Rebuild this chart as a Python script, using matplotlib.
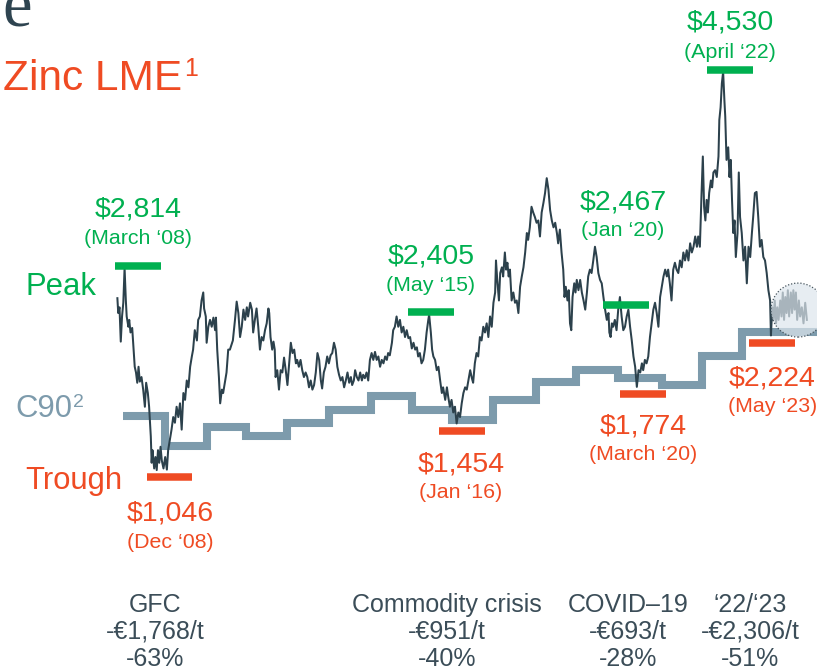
import matplotlib
matplotlib.use("Agg")
import matplotlib.pyplot as plt
from matplotlib.patches import Ellipse

plt.rcParams["font.family"] = ["Liberation Sans", "DejaVu Sans"]

# LME zinc cash price, $/t
zinc_year = [
    2008.02, 2008.04, 2008.07, 2008.10, 2008.13, 2008.16, 2008.19, 2008.22, 2008.24, 2008.28,
    2008.30, 2008.33, 2008.37, 2008.40, 2008.43, 2008.46, 2008.49, 2008.52, 2008.55, 2008.59,
    2008.63, 2008.67, 2008.70, 2008.74, 2008.77, 2008.81, 2008.83, 2008.85, 2008.89, 2008.92,
    2008.95, 2008.98, 2009.01, 2009.04, 2009.07, 2009.11, 2009.15, 2009.19, 2009.22, 2009.26,
    2009.30, 2009.34, 2009.38, 2009.42, 2009.46, 2009.50, 2009.54, 2009.58, 2009.62, 2009.66,
    2009.70, 2009.74, 2009.78, 2009.81, 2009.85, 2009.90, 2009.93, 2009.97, 2010.01, 2010.05,
    2010.07, 2010.11, 2010.13, 2010.17, 2010.21, 2010.25, 2010.29, 2010.33, 2010.35, 2010.38,
    2010.42, 2010.45, 2010.49, 2010.52, 2010.56, 2010.60, 2010.64, 2010.68, 2010.75, 2010.80,
    2010.84, 2010.88, 2010.92, 2010.96, 2011.00, 2011.04, 2011.08, 2011.11, 2011.16, 2011.20,
    2011.23, 2011.27, 2011.31, 2011.35, 2011.39, 2011.43, 2011.47, 2011.51, 2011.55, 2011.59,
    2011.61, 2011.64, 2011.68, 2011.71, 2011.74, 2011.76, 2011.80, 2011.84, 2011.88, 2011.92,
    2011.96, 2012.00, 2012.04, 2012.08, 2012.12, 2012.16, 2012.20, 2012.24, 2012.27, 2012.31,
    2012.35, 2012.39, 2012.43, 2012.47, 2012.51, 2012.55, 2012.59, 2012.63, 2012.67, 2012.71,
    2012.75, 2012.79, 2012.83, 2012.86, 2012.90, 2012.94, 2012.98, 2013.02, 2013.06, 2013.10,
    2013.14, 2013.18, 2013.22, 2013.26, 2013.30, 2013.34, 2013.38, 2013.42, 2013.46, 2013.50,
    2013.54, 2013.57, 2013.61, 2013.64, 2013.68, 2013.72, 2013.76, 2013.80, 2013.83, 2013.87,
    2013.91, 2013.95, 2013.99, 2014.03, 2014.07, 2014.11, 2014.15, 2014.19, 2014.23, 2014.27,
    2014.31, 2014.35, 2014.39, 2014.42, 2014.46, 2014.51, 2014.54, 2014.58, 2014.62, 2014.66,
    2014.70, 2014.74, 2014.78, 2014.82, 2014.86, 2014.90, 2014.94, 2014.98, 2015.02, 2015.06,
    2015.10, 2015.13, 2015.17, 2015.21, 2015.25, 2015.29, 2015.33, 2015.37, 2015.39, 2015.43,
    2015.46, 2015.49, 2015.53, 2015.57, 2015.61, 2015.65, 2015.69, 2015.72, 2015.77, 2015.81,
    2015.84, 2015.88, 2015.92, 2015.96, 2016.00, 2016.04, 2016.08, 2016.12, 2016.16, 2016.20,
    2016.24, 2016.28, 2016.36, 2016.40, 2016.43, 2016.47, 2016.51, 2016.55, 2016.59, 2016.63,
    2016.67, 2016.71, 2016.75, 2016.79, 2016.83, 2016.87, 2016.91, 2016.95, 2016.97, 2017.00,
    2017.04, 2017.07, 2017.11, 2017.14, 2017.18, 2017.21, 2017.24, 2017.27, 2017.30, 2017.34,
    2017.38, 2017.42, 2017.46, 2017.50, 2017.54, 2017.58, 2017.62, 2017.66, 2017.70, 2017.73,
    2017.77, 2017.81, 2017.85, 2017.89, 2017.93, 2017.97, 2018.01, 2018.05, 2018.09, 2018.13,
    2018.17, 2018.21, 2018.25, 2018.29, 2018.33, 2018.37, 2018.41, 2018.44, 2018.48, 2018.52,
    2018.56, 2018.59, 2018.62, 2018.66, 2018.69, 2018.72, 2018.75, 2018.78, 2018.82, 2018.85,
    2018.88, 2018.92, 2018.96, 2019.00, 2019.04, 2019.08, 2019.12, 2019.15, 2019.19, 2019.23,
    2019.27, 2019.31, 2019.35, 2019.39, 2019.43, 2019.47, 2019.51, 2019.55, 2019.59, 2019.63,
    2019.65, 2019.68, 2019.71, 2019.74, 2019.78, 2019.82, 2019.86, 2019.90, 2019.94, 2019.98,
    2020.02, 2020.06, 2020.10, 2020.14, 2020.18, 2020.22, 2020.26, 2020.30, 2020.34, 2020.38,
    2020.42, 2020.45, 2020.49, 2020.53, 2020.57, 2020.61, 2020.65, 2020.69, 2020.73, 2020.77,
    2020.81, 2020.85, 2020.89, 2020.93, 2020.97, 2021.01, 2021.04, 2021.08, 2021.12, 2021.16,
    2021.20, 2021.24, 2021.28, 2021.32, 2021.36, 2021.40, 2021.44, 2021.48, 2021.52, 2021.56,
    2021.60, 2021.64, 2021.68, 2021.72, 2021.75, 2021.79, 2021.83, 2021.86, 2021.89, 2021.92,
    2021.95, 2021.98, 2022.01, 2022.05, 2022.08, 2022.11, 2022.15, 2022.19, 2022.23, 2022.25,
    2022.28, 2022.31, 2022.34, 2022.37, 2022.39, 2022.42, 2022.46, 2022.49, 2022.52, 2022.55,
    2022.58, 2022.61, 2022.64, 2022.68, 2022.71, 2022.74, 2022.78, 2022.82, 2022.86, 2022.90,
    2022.94, 2022.98, 2023.02, 2023.05, 2023.09, 2023.13, 2023.17, 2023.21, 2023.25, 2023.29,
    2023.33, 2023.37, 2023.41, 2023.45, 2023.47, 2023.50, 2023.53, 2023.56, 2023.59, 2023.62,
    2023.65, 2023.69, 2023.72, 2023.75, 2023.78, 2023.81, 2023.84, 2023.87, 2023.90, 2023.94,
    2023.97, 2024.00, 2024.03, 2024.06, 2024.09, 2024.13, 2024.16, 2024.20, 2024.24, 2024.28,
    2024.32,
]
zinc_price = [
    2550, 2420, 2470, 2170, 2390, 2510, 2814, 2530, 2390, 2300,
    2360, 2250, 2290, 2120, 1950, 1900, 1810, 1950, 1820, 1860,
    1750, 1600, 1810, 1720, 1600, 1340, 1110, 1220, 1060, 1160,
    1046, 1220, 1110, 1250, 1130, 1060, 1160, 1050, 1220, 1310,
    1400, 1510, 1460, 1600, 1510, 1630, 1400, 1720, 1660, 1830,
    1770, 1950, 2040, 2100, 2270, 2180, 2360, 2390, 2530, 2600,
    2460, 2390, 2160, 2300, 2360, 2300, 2380, 2270, 2380, 2100,
    1860, 1630, 1750, 1720, 1810, 1900, 2100, 2100, 2180, 2360,
    2520, 2420, 2210, 2300, 2450, 2360, 2470, 2390, 2510, 2450,
    2250, 2360, 2460, 2300, 2100, 2210, 2180, 2270, 2330, 2460,
    2420, 2210, 2100, 2170, 2100, 1860, 1920, 1750, 1920, 1900,
    2030, 1920, 1790, 1980, 2160, 2070, 2100, 1980, 2010, 1950,
    2010, 1920, 1860, 1900, 1860, 1770, 1830, 1750, 1790, 1900,
    2070, 2010, 1830, 1760, 1900, 1950, 2040, 1980, 2050, 2070,
    2160, 2100, 1950, 1880, 1830, 1860, 1770, 1830, 1900, 1810,
    1860, 1790, 1830, 1920, 1860, 1830, 1900, 1830, 1880, 1850,
    1900, 1830, 2010, 2070, 2010, 2080, 2010, 2040, 1950, 2010,
    1980, 2040, 2010, 2070, 2050, 2160, 2270, 2300, 2390, 2300,
    2360, 2250, 2300, 2210, 2270, 2200, 2210, 2110, 2160, 2100,
    2120, 2040, 2070, 1980, 2010, 2100, 2250, 2360, 2405, 2250,
    2100, 2040, 2010, 1920, 1950, 1830, 1720, 1770, 1660, 1770,
    1690, 1600, 1660, 1550, 1600, 1454, 1550, 1510, 1630, 1720,
    1770, 1750, 1920, 1850, 1810, 1980, 2070, 2040, 2210, 2180,
    2300, 2250, 2330, 2210, 2390, 2300, 2510, 2600, 2880, 2710,
    2530, 2770, 2820, 2740, 2950, 2800, 2860, 2740, 2800, 2530,
    2600, 2510, 2530, 2420, 2650, 2740, 2820, 2950, 3120, 3060,
    3170, 3350, 3300, 3260, 3210, 3230, 3090, 3300, 3380, 3470,
    3600, 3500, 3320, 3230, 3170, 3210, 3120, 3030, 3150, 2950,
    2800, 2560, 2650, 2530, 2620, 2330, 2270, 2560, 2680, 2600,
    2710, 2620, 2710, 2600, 2530, 2450, 2600, 2740, 2800, 2770,
    2880, 3000, 2910, 2770, 2710, 2680, 2560, 2450, 2360, 2420,
    2250, 2210, 2330, 2300, 2360, 2270, 2450, 2560, 2390, 2270,
    2300, 2390, 2450, 2300, 2180, 2040, 1950, 1774, 1920, 1900,
    1980, 1920, 2010, 1980, 2040, 2210, 2330, 2450, 2510, 2420,
    2300, 2560, 2650, 2740, 2800, 2740, 2800, 2680, 2530, 2800,
    2860, 2800, 2770, 2880, 2820, 2950, 2880, 2970, 2880, 3030,
    2950, 3000, 3090, 3000, 3090, 3000, 3470, 3790, 3350, 3230,
    3410, 3300, 3470, 3580, 3520, 3650, 3670, 3610, 3790, 4110,
    4220, 4430, 4530, 4280, 4140, 3760, 3870, 3610, 3760, 3410,
    3120, 3230, 2910, 3120, 3650, 3260, 3120, 2880, 3000, 2680,
    3000, 2910, 3120, 3260, 3470, 3480, 3260, 3000, 3060, 2910,
    2880, 2770, 2620, 2530, 2224, 2470, 2360, 2530, 2330, 2470,
    2360, 2530, 2390, 2600, 2360, 2560, 2420, 2620, 2390, 2600,
    2420, 2620, 2450, 2600, 2360, 2530, 2390, 2470, 2330, 2510,
    2360,
]

# C90 cash cost, $/t
c90_edges = [2008.16, 2009.15, 2010.13, 2011.06, 2012.03, 2013.03, 2014.02, 2014.98, 2015.94,
             2016.91, 2017.92, 2018.87, 2019.86, 2020.89, 2021.83, 2022.78, 2024.60]
c90_levels = [1520, 1260, 1420, 1340, 1455, 1570, 1690, 1575, 1480, 1660, 1820, 1920, 1850,
              1790, 2040, 2250]

peak_values = [2814, 2405, 2467, 4530]
peak_dates = ["(March \u201808)", "(May \u201815)", "(Jan \u201820)", "(April \u201822)"]
trough_values = [1046, 1454, 1774, 2224]
trough_dates = ["(Dec \u201808)", "(Jan \u201816)", "(March \u201820)", "(May \u201823)"]

events = ["GFC", "Commodity crisis", "COVID\u201319", "\u201822/\u201823"]
eur_drop = ["-\u20ac1,768/t", "-\u20ac951/t", "-\u20ac693/t", "-\u20ac2,306/t"]
pct_drop = ["-63%", "-40%", "-28%", "-51%"]

# layout
GREEN = "#00b050"
RED = "#ef4b23"
LINE = "#2c414c"
C90_COL = "#7d9bac"
TXT = "#3b4d58"
W, H = 817, 671

peak_bar_x = [2008.51, 2015.43, 2020.04, 2022.50]
trough_bar_x = [2009.25, 2016.17, 2020.45, 2023.50]
bar_half = 0.538
peak_lbl_x = [2008.51, 2015.43, 2019.97, 2022.50]
peak_val_y = [3330, 2919, 3383, 4966]
peak_date_y = [3068, 2665, 3138, 4704]
trough_lbl_x = [2009.26, 2016.14, 2020.45, 2023.50]
trough_val_y = [670, 1099, 1423, 1851]
trough_date_y = [416, 854, 1178, 1606]
event_px = [155, 447, 628, 750]

fig = plt.figure(figsize=(W / 100, H / 100), dpi=100)
ax = fig.add_axes([0, 0, 1, 1])
ax.axis("off")
ax.set_xlim(2005.245, 2024.559)
ax.set_ylim(-712, 5159)


def fx(x, y):
    return x / W, 1 - y / H


ax.stairs(c90_levels, c90_edges, baseline=None, color=C90_COL, linewidth=5.8, zorder=2)
ax.plot(zinc_year, zinc_price, color=LINE, linewidth=1.45, zorder=3)

for xc, v in zip(peak_bar_x, peak_values):
    ax.hlines(v + 20, xc - bar_half, xc + bar_half, color=GREEN, linewidth=5.4, zorder=4)
for xc, v in zip(trough_bar_x, trough_values):
    ax.hlines(v - 62, xc - bar_half, xc + bar_half, color=RED, linewidth=5.4, zorder=4)

# current period highlight
ax.add_patch(Ellipse((2024.11, 2446), 1.277, 472, facecolor=(0.87, 0.9, 0.93, 0.7),
                     edgecolor="#46545d", linestyle=(0, (1, 1.5)), linewidth=0.9, zorder=5))

for x, v, yv, d, yd in zip(peak_lbl_x, peak_values, peak_val_y, peak_dates, peak_date_y):
    ax.text(x, yv, f"${v:,}", color=GREEN, fontsize=20.5, ha="center", va="center")
    ax.text(x, yd, d, color=GREEN, fontsize=15.4, ha="center", va="center")
for x, v, yv, d, yd in zip(trough_lbl_x, trough_values, trough_val_y, trough_dates, trough_date_y):
    ax.text(x, yv, f"${v:,}", color=RED, fontsize=20.5, ha="center", va="center")
    ax.text(x, yd, d, color=RED, fontsize=15.4, ha="center", va="center")

# title bits (the serif "e" is cut at the top edge, as in the source)
fig.text(*fx(2, 26), "e", color="#2e4450", fontsize=48, family="Liberation Serif", va="baseline")
fig.text(*fx(3, 90), "Zinc LME", color=RED, fontsize=30.5, va="baseline")
fig.text(*fx(184, 76), "1", color=RED, fontsize=18, va="baseline")

fig.text(*fx(25, 295), "Peak", color=GREEN, fontsize=22.3, va="baseline")
fig.text(*fx(15, 416.7), "C90", color=C90_COL, fontsize=22.3, va="baseline")
fig.text(*fx(73, 406.7), "2", color=C90_COL, fontsize=14, va="baseline")
fig.text(*fx(25, 489.3), "Trough", color=RED, fontsize=22.3, va="baseline")

narrow = ["Liberation Sans Narrow", "Liberation Sans", "DejaVu Sans"]
for x, e, d, p in zip(event_px, events, eur_drop, pct_drop):
    for y, s in zip([605, 632, 659], [e, d, p]):
        fig.text(*fx(x, y), s, color=TXT, fontsize=18, family=narrow, ha="center", va="center")

fig.savefig("out.png", dpi=100)
